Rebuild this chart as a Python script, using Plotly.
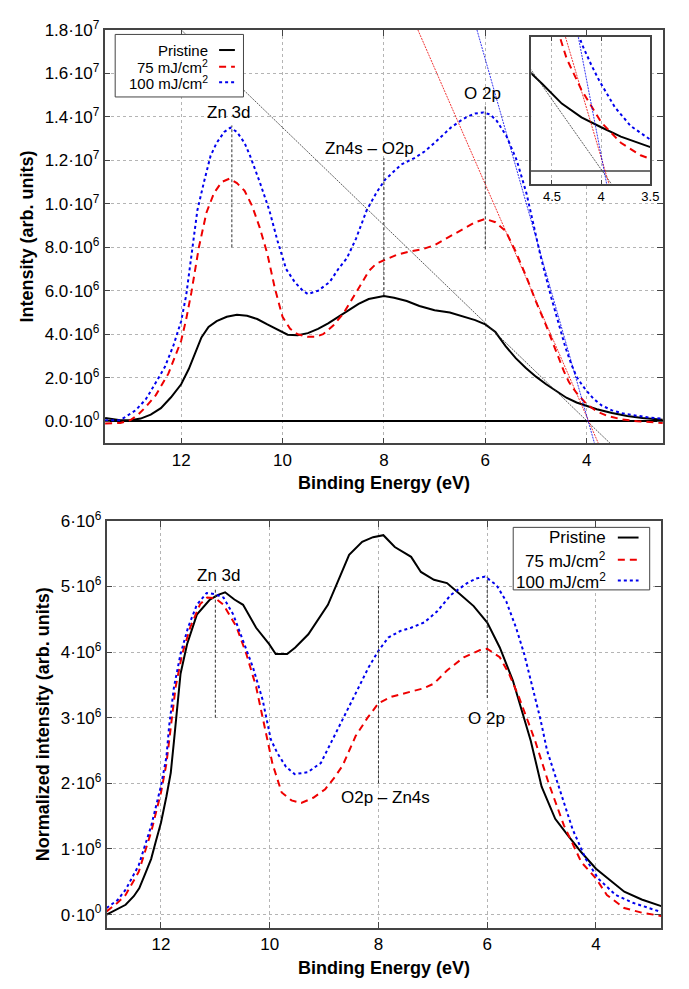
import plotly.graph_objects as go

W, H = 689, 989
SCALE = 1e6

# ---------------- top panel data (binding energy eV, intensity / 1e6) ----------------
top_e_pristine = [13.5, 13.2, 13.0, 12.8, 12.6, 12.4, 12.2, 12.0, 11.85, 11.72, 11.6, 11.46, 11.3, 11.1,
                  10.9, 10.7, 10.5, 10.3, 10.1, 9.9, 9.7, 9.5, 9.3, 9.1, 8.9, 8.7, 8.5, 8.3, 8.1, 8.0,
                  7.8, 7.55, 7.3, 7.0, 6.7, 6.4, 6.2, 6.0, 5.8, 5.6, 5.4, 5.2, 5.0, 4.8, 4.6, 4.4, 4.2,
                  4.0, 3.8, 3.5, 3.2, 2.9, 2.5]
top_pristine = [0.15, 0.05, 0.05, 0.12, 0.3, 0.6, 1.1, 1.7, 2.4, 3.2, 3.85, 4.33, 4.6, 4.8,
                4.9, 4.85, 4.7, 4.45, 4.2, 3.98, 3.95, 4.05, 4.25, 4.5, 4.8, 5.1, 5.4, 5.62, 5.73, 5.76,
                5.68, 5.53, 5.3, 5.1, 5.0, 4.8, 4.65, 4.45, 4.1, 3.45, 2.9, 2.45, 2.05, 1.7, 1.4, 1.08, 0.86,
                0.7, 0.55, 0.38, 0.24, 0.15, 0.07]

top_e_75 = [13.5, 13.2, 13.0, 12.85, 12.7, 12.5, 12.25, 12.0, 11.9, 11.8, 11.65, 11.5, 11.35, 11.2,
            11.05, 10.9, 10.75, 10.6, 10.45, 10.3, 10.15, 10.0, 9.85, 9.7, 9.5, 9.35, 9.2, 9.0, 8.8,
            8.6, 8.45, 8.3, 8.15, 8.0, 7.75, 7.5, 7.25, 7.0, 6.7, 6.4, 6.2, 6.0, 5.8, 5.6, 5.4, 5.2,
            5.0, 4.8, 4.6, 4.45, 4.35, 4.2, 4.0, 3.8, 3.6, 3.3, 3.0, 2.5]
top_75 = [-0.1, -0.08, 0.05, 0.3, 0.65, 1.2, 2.2, 3.7, 4.7, 5.9, 8.0, 9.6, 10.5, 11.0,
          11.15, 10.95, 10.6, 9.9, 8.9, 7.7, 6.1, 4.8, 4.25, 4.0, 3.88, 3.88, 4.0, 4.4, 4.95,
          5.7, 6.3, 6.9, 7.25, 7.4, 7.65, 7.8, 7.9, 8.1, 8.5, 8.9, 9.15, 9.3, 9.15, 8.75, 7.8, 6.7,
          5.5, 4.4, 3.2, 2.3, 1.8, 1.3, 0.78, 0.45, 0.25, 0.08, 0.0, -0.08]

top_e_100 = [13.5, 13.2, 12.9, 12.7, 12.57, 12.32, 12.15, 12.0, 11.9, 11.8, 11.68, 11.55, 11.42, 11.3,
             11.15, 11.03, 10.9, 10.75, 10.64, 10.45, 10.26, 10.1, 9.93, 9.76, 9.6, 9.5, 9.3, 9.07,
             8.9, 8.73, 8.55, 8.34, 8.15, 7.98, 7.8, 7.66, 7.4, 7.2, 7.0, 6.85, 6.68, 6.5, 6.36, 6.2,
             6.04, 5.9, 5.77, 5.58, 5.38, 5.19, 5.0, 4.9, 4.7, 4.55, 4.42, 4.3, 4.2, 4.1, 4.02, 3.86,
             3.7, 3.5, 3.3, 3.0, 2.8, 2.5]
top_100 = [0.05, 0.05, 0.5, 1.0, 1.5, 2.5, 3.5, 4.6, 5.8, 7.6, 9.7, 11.0, 12.2, 12.8,
           13.3, 13.5, 13.3, 12.8, 12.2, 11.0, 9.7, 8.3, 7.0, 6.4, 6.0, 5.85, 6.0, 6.4,
           7.0, 7.5, 8.4, 9.7, 10.5, 11.1, 11.5, 11.8, 12.1, 12.4, 12.8, 13.15, 13.5, 13.8, 14.0, 14.15,
           14.2, 14.1, 13.8, 13.1, 12.0, 10.5, 8.6, 7.5, 5.7, 4.4, 3.4, 2.6, 2.05, 1.7, 1.45, 1.02,
           0.72, 0.5, 0.37, 0.25, 0.18, 0.12]

# leading-edge fits: zero crossing (eV) and slope (intensity/1e6 per eV)
fit_names = ["Pristine", "75 mJ/cm<sup>2</sup>", "100 mJ/cm<sup>2</sup>"]
fit_zero_ev = [3.99, 3.96, 3.97]
fit_slope = [2.247, 5.34, 8.2]

# peak markers, top panel: energy, y from, y to (1e6)
top_peak_ev = [11.0, 8.0, 6.0]
top_peak_y0 = [8.0, 5.8, 7.9]
top_peak_y1 = [13.6, 12.1, 14.5]
top_labels = ["Zn 3d", "Zn4s \u2013 O2p", "O 2p"]
top_label_ev = [11.06, 8.29, 6.06]
top_label_y = [14.2, 12.55, 15.07]

# ---------------- bottom panel data (normalized) ----------------
bot_e_pristine = [13.0, 12.8, 12.65, 12.5, 12.4, 12.3, 12.18, 12.1, 12.0, 11.9, 11.82, 11.76, 11.64,
                  11.52, 11.34, 11.1, 10.95, 10.82, 10.65, 10.49, 10.25, 10.01, 9.89, 9.68, 9.53, 9.29,
                  9.1, 8.93, 8.75, 8.54, 8.3, 8.1, 7.91, 7.7, 7.4, 7.22, 6.98, 6.74, 6.5, 6.25, 6.0,
                  5.77, 5.53, 5.35, 5.2, 5.0, 4.75, 4.51, 4.27, 4.0, 3.8, 3.48, 3.16, 2.8]
bot_pristine = [0.0, 0.08, 0.15, 0.28, 0.4, 0.6, 0.85, 1.1, 1.4, 1.8, 2.16, 2.65, 3.67,
                4.12, 4.57, 4.8, 4.87, 4.91, 4.8, 4.72, 4.37, 4.12, 3.97, 3.97, 4.07, 4.27,
                4.5, 4.72, 5.07, 5.48, 5.68, 5.75, 5.78, 5.6, 5.45, 5.22, 5.1, 5.05, 4.88, 4.7, 4.45,
                4.07, 3.57, 3.07, 2.65, 1.95, 1.46, 1.2, 0.95, 0.7, 0.57, 0.35, 0.23, 0.13]

bot_e_75 = [13.0, 12.8, 12.65, 12.41, 12.18, 12.0, 11.9, 11.82, 11.73, 11.61, 11.46, 11.28, 11.15, 11.0,
            10.85, 10.61, 10.43, 10.25, 10.1, 9.95, 9.78, 9.6, 9.42, 9.2, 8.98, 8.8, 8.66, 8.42, 8.2,
            8.0, 7.76, 7.4, 7.16, 6.98, 6.74, 6.43, 6.13, 6.0, 5.77, 5.6, 5.42, 5.24, 5.12, 4.87, 4.59,
            4.27, 4.0, 3.8, 3.48, 3.16, 2.8]
bot_75 = [0.05, 0.18, 0.3, 0.65, 1.26, 1.86, 2.3, 2.87, 3.47, 3.97, 4.38, 4.73, 4.83, 4.82,
          4.72, 4.38, 3.97, 3.47, 2.87, 2.3, 1.86, 1.74, 1.7, 1.78, 1.91, 2.1, 2.27, 2.72, 3.0,
          3.22, 3.32, 3.4, 3.45, 3.52, 3.72, 3.92, 4.03, 4.05, 3.92, 3.67, 3.32, 2.92, 2.65, 2.0, 1.36,
          0.8, 0.55, 0.3, 0.1, 0.03, -0.02]

bot_e_100 = [13.0, 12.8, 12.65, 12.41, 12.18, 12.0, 11.9, 11.85, 11.76, 11.64, 11.5, 11.34, 11.16, 11.0,
             10.85, 10.67, 10.49, 10.31, 10.13, 9.98, 9.86, 9.7, 9.54, 9.3, 9.06, 8.78, 8.6, 8.42, 8.18,
             8.0, 7.82, 7.6, 7.4, 7.16, 6.92, 6.67, 6.37, 6.2, 6.04, 5.83, 5.65, 5.47, 5.32, 5.17, 5.02,
             4.9, 4.67, 4.43, 4.19, 3.96, 3.64, 3.32, 2.84]
bot_100 = [0.1, 0.22, 0.38, 0.75, 1.35, 1.96, 2.4, 2.87, 3.47, 3.97, 4.38, 4.72, 4.9, 4.88,
           4.83, 4.57, 4.17, 3.77, 3.27, 2.67, 2.46, 2.25, 2.14, 2.17, 2.31, 2.77, 3.05, 3.37, 3.77,
           4.02, 4.22, 4.32, 4.37, 4.45, 4.62, 4.87, 5.05, 5.12, 5.15, 5.02, 4.77, 4.37, 3.97, 3.47, 2.97,
           2.5, 1.9, 1.3, 0.85, 0.55, 0.3, 0.18, 0.05]

bot_peak_ev = [11.0, 8.0, 6.0]
bot_peak_y0 = [3.0, 2.0, 3.3]
bot_peak_y1 = [4.98, 5.0, 5.15]
bot_labels = ["Zn 3d", "O2p \u2013 Zn4s", "O 2p"]
bot_label_ev = [10.95, 7.87, 6.02]
bot_label_y = [5.17, 1.79, 2.99]

# tick labels
top_yticks = [0, 2, 4, 6, 8, 10, 12, 14, 16, 18]
top_yticktext = ["0.0\u00b710<sup>0</sup>", "2.0\u00b710<sup>6</sup>", "4.0\u00b710<sup>6</sup>",
                 "6.0\u00b710<sup>6</sup>", "8.0\u00b710<sup>6</sup>", "1.0\u00b710<sup>7</sup>",
                 "1.2\u00b710<sup>7</sup>", "1.4\u00b710<sup>7</sup>", "1.6\u00b710<sup>7</sup>",
                 "1.8\u00b710<sup>7</sup>"]
bot_yticks = [0, 1, 2, 3, 4, 5, 6]
bot_yticktext = ["0\u00b710<sup>0</sup>"] + ["%d\u00b710<sup>6</sup>" % v for v in bot_yticks[1:]]
x_ticks = [12, 10, 8, 6, 4]
inset_xticks = [4.5, 4.0, 3.5]
inset_xticktext = ["4.5", "4", "3.5"]

# ---------------- styling ----------------
colors = ["black", "#ee0000", "#0000ee"]
dashes = ["solid", "7px,5px", "3px,3px"]
FONT = "Liberation Sans, Arial, Helvetica, sans-serif"

def px_x(p):
    return p / W

def px_y(p):
    return 1 - p / H

fig = go.Figure()

top_sets = [(top_e_pristine, top_pristine), (top_e_75, top_75), (top_e_100, top_100)]
bot_sets = [(bot_e_pristine, bot_pristine), (bot_e_75, bot_75), (bot_e_100, bot_100)]

TOP_YMIN, TOP_YMAX = -1.02, 18.0

# main top panel and inset curves
for axes in [("x", "y"), ("x3", "y3")]:
    for i, (ex, iv) in enumerate(top_sets):
        fig.add_trace(go.Scatter(x=ex, y=[v * SCALE for v in iv], mode="lines",
                                 line=dict(color=colors[i], width=2, dash=dashes[i]),
                                 name=fit_names[i], showlegend=False,
                                 xaxis=axes[0], yaxis=axes[1]))
    # fit lines
    for i in range(3):
        xs = [fit_zero_ev[i] + TOP_YMAX / fit_slope[i], fit_zero_ev[i] + TOP_YMIN / fit_slope[i]]
        ys = [(x - fit_zero_ev[i]) * fit_slope[i] * SCALE for x in xs]
        fig.add_trace(go.Scatter(x=xs, y=ys, mode="lines",
                                 line=dict(color=colors[i] if i else "#333", width=0.8, dash="2px,1px"),
                                 showlegend=False, hoverinfo="skip",
                                 xaxis=axes[0], yaxis=axes[1]))

for i, (ex, iv) in enumerate(bot_sets):
    fig.add_trace(go.Scatter(x=ex, y=[v * SCALE for v in iv], mode="lines",
                             line=dict(color=colors[i], width=2, dash=dashes[i]),
                             name=fit_names[i], showlegend=False,
                             xaxis="x2", yaxis="y2"))

shapes = []
annotations = []

for ev, y0, y1 in zip(top_peak_ev, top_peak_y0, top_peak_y1):
    shapes.append(dict(type="line", xref="x", yref="y", x0=ev, x1=ev, y0=y0 * SCALE, y1=y1 * SCALE,
                       line=dict(color="#333", width=1, dash="3px,2px")))
for ev, y0, y1 in zip(bot_peak_ev, bot_peak_y0, bot_peak_y1):
    shapes.append(dict(type="line", xref="x2", yref="y2", x0=ev, x1=ev, y0=y0 * SCALE, y1=y1 * SCALE,
                       line=dict(color="#333", width=1, dash="3px,2px")))

for t, ev, y in zip(top_labels, top_label_ev, top_label_y):
    annotations.append(dict(text=t, x=ev, y=y * SCALE, xref="x", yref="y", showarrow=False,
                            font=dict(size=17, color="black"), xanchor="center", yanchor="middle"))
for t, ev, y in zip(bot_labels, bot_label_ev, bot_label_y):
    annotations.append(dict(text=t, x=ev, y=y * SCALE, xref="x2", yref="y2", showarrow=False,
                            font=dict(size=17, color="black"), xanchor="center", yanchor="middle"))

# custom gnuplot-style legends (text right-aligned, sample on the right)
def add_legend(box, text_right, sample_x, rows, fsize):
    shapes.append(dict(type="rect", xref="paper", yref="paper",
                       x0=px_x(box[0]), x1=px_x(box[2]), y0=px_y(box[3]), y1=px_y(box[1]),
                       line=dict(color="#444", width=1), fillcolor="white", layer="above"))
    for i, ry in enumerate(rows):
        annotations.append(dict(text=fit_names[i], x=px_x(text_right), y=px_y(ry), xref="paper", yref="paper",
                                xanchor="right", yanchor="middle", showarrow=False,
                                font=dict(size=fsize, color="black")))
        shapes.append(dict(type="line", xref="paper", yref="paper",
                           x0=px_x(sample_x[0]), x1=px_x(sample_x[1]), y0=px_y(ry), y1=px_y(ry),
                           line=dict(color=colors[i], width=2, dash=dashes[i]), layer="above"))

add_legend((116.7, 22.7, 246.7, 86.0), 213, (222, 238), [38.5, 55.5, 71.0], 15)
add_legend((520.0, 521.7, 658.3, 585.0), 616, (626, 647), [532.0, 554.5, 575.5], 17)

axis_common = dict(showgrid=True, griddash="dot", gridcolor="#b4b4b4", gridwidth=1,
                   ticks="inside", ticklen=6, tickcolor="#444", showline=True, linecolor="#444",
                   linewidth=1.5, mirror="ticks", zeroline=False,
                   tickfont=dict(size=17, color="black", family=FONT))

fig.update_layout(
    width=W, height=H, margin=dict(l=0, r=0, t=0, b=0),
    paper_bgcolor="white", plot_bgcolor="white",
    font=dict(family=FONT, color="black"),
    showlegend=False,
    xaxis=dict(domain=[px_x(106), px_x(672)], range=[13.51, 2.49], anchor="y",
               tickvals=x_ticks, title=dict(text="<b>Binding Energy (eV)</b>", font=dict(size=18), standoff=8),
               **axis_common),
    yaxis=dict(domain=[px_y(436.7), px_y(18.0)], range=[TOP_YMIN * SCALE, TOP_YMAX * SCALE], anchor="x",
               tickvals=[v * SCALE for v in top_yticks], ticktext=top_yticktext,
               title=dict(text="<b>Intensity (arb. units)</b>", font=dict(size=18), standoff=6),
               **{**axis_common, "zeroline": True}, zerolinecolor="black", zerolinewidth=1.5),
    xaxis2=dict(domain=[px_x(108), px_x(670)], range=[13.0, 2.8], anchor="y2",
                tickvals=x_ticks, title=dict(text="<b>Binding Energy (eV)</b>", font=dict(size=18), standoff=8),
                **axis_common),
    yaxis2=dict(domain=[px_y(927), px_y(515)], range=[-0.2 * SCALE, 6.0 * SCALE], anchor="x2",
                tickvals=[v * SCALE for v in bot_yticks], ticktext=bot_yticktext,
                title=dict(text="<b>Normalized intensity (arb. units)</b>", font=dict(size=18), standoff=6),
                **axis_common),
    xaxis3=dict(domain=[px_x(538.3), px_x(659)], range=[4.71, 3.5], anchor="y3",
                tickvals=inset_xticks, ticktext=inset_xticktext, showgrid=True, griddash="dot",
                gridcolor="#b4b4b4", ticks="inside", ticklen=4, tickcolor="#444", showline=True,
                linecolor="#444", linewidth=1.5, mirror="ticks", zeroline=False,
                tickfont=dict(size=13, color="black", family=FONT)),
    yaxis3=dict(domain=[px_y(174), px_y(25.3)], range=[-0.21 * SCALE, 2.15 * SCALE], anchor="x3",
                showticklabels=False, showgrid=False, ticks="", showline=True, linecolor="#444",
                linewidth=1.5, mirror=True, zeroline=True, zerolinecolor="#707070", zerolinewidth=2),
    shapes=shapes, annotations=annotations,
)

fig.write_html("out.html", config={"displayModeBar": False},
               post_script="document.body.style.margin='0';document.body.style.overflow='hidden';")
